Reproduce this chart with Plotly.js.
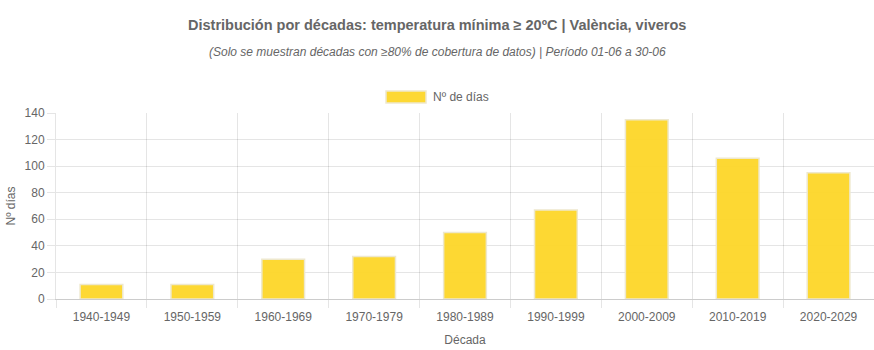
<!DOCTYPE html>
<html>
<head>
<meta charset="utf-8">
<script src="https://cdn.plot.ly/plotly-3.0.1.min.js"></script>
<style>html,body{margin:0;padding:0;background:#fff;}#chart{width:874px;height:350px;}</style>
</head>
<body>
<div id="chart"></div>
<script>
const decades = ["1940-1949","1950-1959","1960-1969","1970-1979","1980-1989","1990-1999","2000-2009","2010-2019","2020-2029"];
const days = [11, 11, 30, 32, 50, 67, 135, 106, 95];
const yTicks = [0, 20, 40, 60, 80, 100, 120, 140];
const seriesName = "Nº de días";
const titleText = "Distribución por décadas: temperatura mínima ≥ 20ºC | València, viveros";
const subtitleText = "(Solo se muestran décadas con ≥80% de cobertura de datos) | Período 01-06 a 30-06";

const W = 874, H = 350, L = 56, R = 0, T = 113, B = 51;
const pw = W - L - R, ph = H - T - B;
const px = v => (v - L) / pw;
const py = v => (H - B - v) / ph;
const font = "Liberation Sans, Arial, Helvetica, sans-serif";
const grey = "#666";

const trace = {
  type: "bar",
  x: decades,
  y: days,
  name: seriesName,
  width: 0.47,
  marker: {color: "rgba(253,214,40,0.95)", line: {color: "rgba(238,232,205,1)", width: 1.5}},
  hoverinfo: "x+y",
  showlegend: false
};

const layout = {
  width: W, height: H,
  margin: {l: L, r: R, t: T, b: B, pad: 0},
  paper_bgcolor: "#fff", plot_bgcolor: "#fff",
  font: {family: font, color: grey, size: 12},
  showlegend: false,
  xaxis: {
    type: "category",
    tickson: "boundaries",
    showgrid: true, gridcolor: "rgba(0,0,0,0.1)", gridwidth: 1,
    ticks: "outside", ticklen: 8, tickcolor: "rgba(0,0,0,0.1)",
    ticklabelstandoff: 7,
    showline: true, linecolor: "rgba(0,0,0,0.2)", linewidth: 1,
    tickfont: {family: font, size: 12, color: grey},
    title: {text: "Década", font: {family: font, size: 12, color: grey}, standoff: 12},
    range: [-0.5, 8.5],
    fixedrange: true
  },
  yaxis: {
    range: [0, 140],
    tickvals: yTicks,
    showgrid: true, gridcolor: "rgba(0,0,0,0.1)", gridwidth: 1,
    ticks: "outside", ticklen: 8, tickcolor: "rgba(0,0,0,0.1)",
    showline: true, linecolor: "rgba(0,0,0,0.1)", linewidth: 1,
    zeroline: false,
    tickfont: {family: font, size: 12, color: grey},
    title: {text: "Nº días", font: {family: font, size: 12, color: grey}, standoff: 6},
    fixedrange: true
  },
  shapes: [
    {type: "rect", xref: "paper", yref: "paper",
     x0: px(386), x1: px(426), y0: py(103), y1: py(91),
     fillcolor: "rgba(253,214,40,0.95)", line: {color: "rgba(238,232,205,1)", width: 1.5}}
  ],
  annotations: [
    {xref: "paper", yref: "paper", x: px(437), y: py(25), xanchor: "center", yanchor: "middle",
     showarrow: false, text: "<b>" + titleText + "</b>", font: {family: font, size: 14.5, color: grey}},
    {xref: "paper", yref: "paper", x: px(437), y: py(52), xanchor: "center", yanchor: "middle",
     showarrow: false, text: "<i>" + subtitleText + "</i>", font: {family: font, size: 12, color: grey}},
    {xref: "paper", yref: "paper", x: px(431), y: py(97), xanchor: "left", yanchor: "middle",
     showarrow: false, text: seriesName, font: {family: font, size: 12, color: grey}}
  ]
};

Plotly.newPlot("chart", [trace], layout, {displayModeBar: false, responsive: false});
</script>
</body>
</html>
